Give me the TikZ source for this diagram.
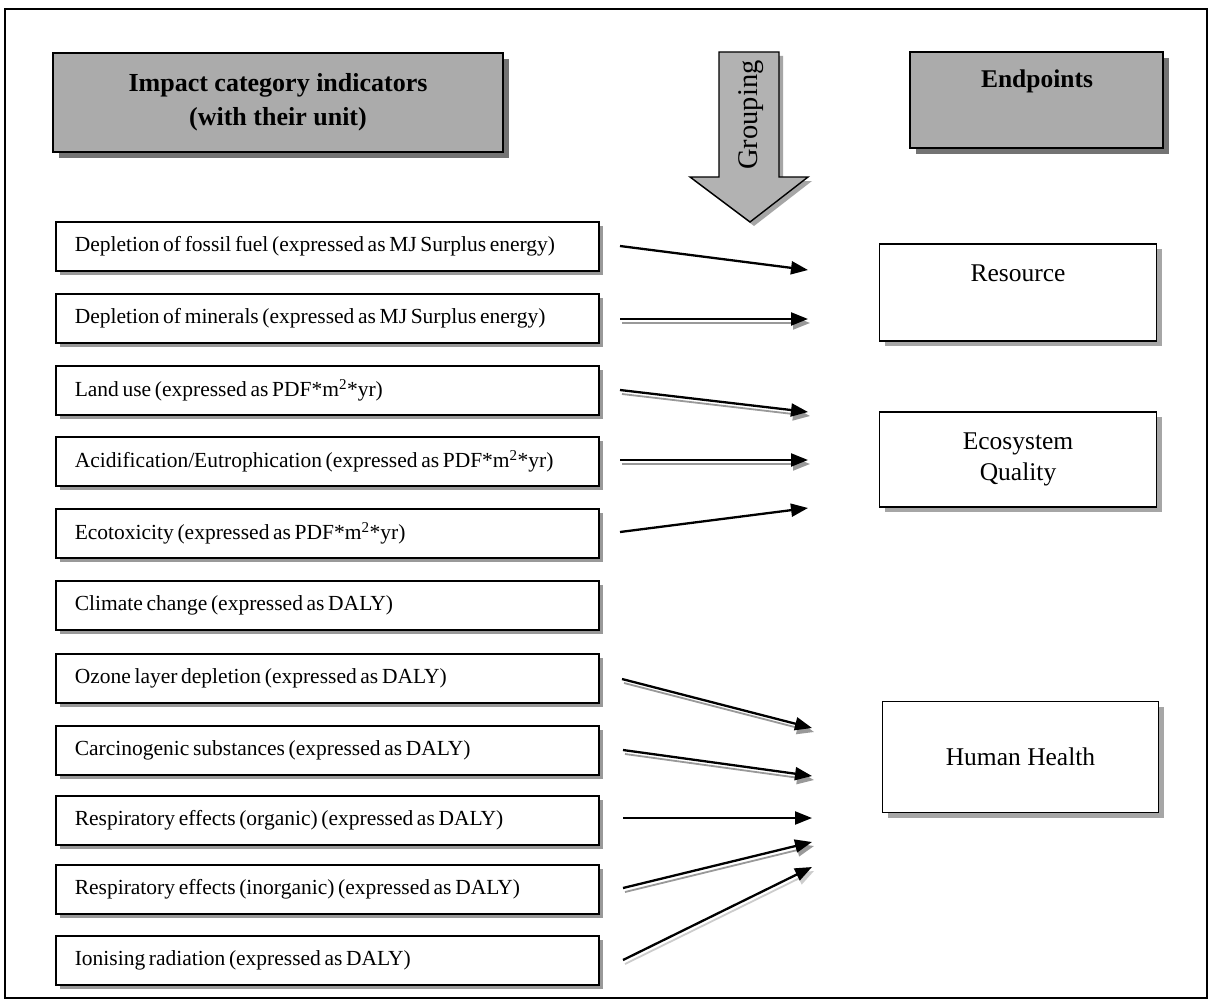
\documentclass[tikz,border=0pt]{standalone}
\usepackage{fontspec}
\setmainfont{Liberation Serif}
\usetikzlibrary{arrows.meta,shadows}
\newcommand{\lefttext}[1]{\hbox to 505pt{\spaceskip=0.17em\relax #1\hfil}}
\begin{document}
\begin{tikzpicture}[x=1pt,y=-1pt,
  hdrbox/.style={draw, line width=1.6pt, fill=black!33, align=center,
    font=\fontsize{26}{34}\selectfont\bfseries,
    drop shadow={shadow xshift=6pt, shadow yshift=-6pt, fill=black!55, opacity=1}},
  lbox/.style={draw, line width=1.6pt, fill=white, anchor=west,
    minimum height=49pt, inner xsep=19pt,
    font=\fontsize{21.5}{24}\selectfont,
    drop shadow={shadow xshift=4pt, shadow yshift=-4pt, fill=black!40, opacity=1}},
  rbox/.style={draw, line width=1.6pt, fill=white, minimum width=277pt,
    drop shadow={shadow xshift=5pt, shadow yshift=-5pt, fill=black!35, opacity=1}},
  rtext/.style={font=\fontsize{25.5}{31}\selectfont, align=center},
  conn/.style={line width=2.3pt, -{Triangle[length=17pt,width=13pt]}},
  connshadow/.style={line width=1.8pt, draw=black!40, -{Triangle[length=17pt,width=13pt]}},
]
\useasboundingbox (0,0) rectangle (1212,1006);
\fill[white] (0,0) rectangle (1212,1006);
\draw[line width=2pt] (5,9) rectangle (1207,998);

% header boxes
\node[hdrbox, minimum width=450pt, minimum height=99pt] (hdrL) at (278,102.5)
  {Impact category indicators\\(with their unit)};
\node[hdrbox, minimum width=253pt, minimum height=96pt] (hdrR) at (1036.5,100) {};
\node[font=\fontsize{25.5}{31}\selectfont\bfseries] (hdrRtxt) at (1037,81) {Endpoints};

% grouping arrow
\fill[black!35] (723,56) -- (783,56) -- (783,181) -- (812,181) -- (754,226) -- (694,181) -- (723,181) -- cycle;
\draw[line width=1.4pt, fill=black!30] (719,52) -- (779,52) -- (779,177) -- (808,177) -- (750,222) -- (690,177) -- (719,177) -- cycle;
\node[rotate=90, font=\fontsize{28.5}{32}\selectfont] (grp) at (751,115) {Grouping};

% left boxes
\node[lbox] (b1)  at (55,246.5) {\lefttext{Depletion of fossil fuel (expressed as MJ Surplus energy)}};
\node[lbox] (b2)  at (55,318.5) {\lefttext{Depletion of minerals (expressed as MJ Surplus energy)}};
\node[lbox] (b3)  at (55,390.5) {\lefttext{Land use (expressed as PDF*m\textsuperscript{2}*yr)}};
\node[lbox] (b4)  at (55,461.5) {\lefttext{Acidification/Eutrophication (expressed as PDF*m\textsuperscript{2}*yr)}};
\node[lbox] (b5)  at (55,533.5) {\lefttext{Ecotoxicity (expressed as PDF*m\textsuperscript{2}*yr)}};
\node[lbox] (b6)  at (55,605.5) {\lefttext{Climate change (expressed as DALY)}};
\node[lbox] (b7)  at (55,678.5) {\lefttext{Ozone layer depletion (expressed as DALY)}};
\node[lbox] (b8)  at (55,750.5) {\lefttext{Carcinogenic substances (expressed as DALY)}};
\node[lbox] (b9)  at (55,820.5) {\lefttext{Respiratory effects (organic) (expressed as DALY)}};
\node[lbox] (b10) at (55,889.5) {\lefttext{Respiratory effects (inorganic) (expressed as DALY)}};
\node[lbox] (b11) at (55,960.5) {\lefttext{Ionising radiation (expressed as DALY)}};

% right boxes
\node[rbox, minimum height=97pt] (res) at (1018,292.5) {};
\node[rtext] (restxt) at (1018,273) {Resource};
\node[rbox, minimum height=95pt, rtext] (eco) at (1018,459.5) {Ecosystem\\Quality};
\node[rbox, minimum height=111pt, minimum width=276pt, rtext] (hh) at (1020.5,757) {Human Health};

% connector end points
\coordinate (s1) at (620,246);  \coordinate (e1) at (808,270);
\coordinate (s2) at (620,319);  \coordinate (e2) at (808,319);
\coordinate (s3) at (620,390);  \coordinate (e3) at (808,412);
\coordinate (s4) at (620,460);  \coordinate (e4) at (808,460);
\coordinate (s5) at (620,532);  \coordinate (e5) at (808,508);
\coordinate (s7) at (622,679);  \coordinate (e7) at (812,728);
\coordinate (s8) at (623,750);  \coordinate (e8) at (812,776);
\coordinate (s9) at (623,818);  \coordinate (e9) at (812,818);
\coordinate (s10) at (623,888); \coordinate (e10) at (812,842);
\coordinate (s11) at (623,960); \coordinate (e11) at (812,867);

% arrow shadows
\foreach \i in {2,3,4,7,8,10}{
  \draw[connshadow] ([shift={(2,4)}]s\i) -- ([shift={(2,4)}]e\i);
}
\draw[connshadow, draw=black!20] ([shift={(2,4)}]s11) -- ([shift={(2,4)}]e11);

% arrows
\foreach \i in {1,2,3,4,5,7,8,9,10,11}{
  \draw[conn] (s\i) -- (e\i);
}
\end{tikzpicture}
\end{document}
